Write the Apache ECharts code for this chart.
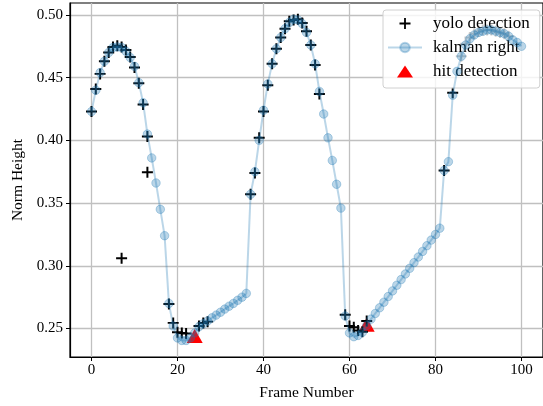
<!DOCTYPE html>
<html>
<head>
<meta charset="utf-8">
<script src="https://cdn.jsdelivr.net/npm/echarts@6/dist/echarts.min.js"></script>
<style>
html,body{margin:0;padding:0;background:#fff;}
#chart{width:543px;height:406px;}
</style>
</head>
<body>
<div id="chart"></div>
<script>
// Kalman estimate, one value per frame 0..100
const kalmanFrames = Array.from({length: 101}, (_, i) => i);
const kalmanRight = [
  0.423, 0.440, 0.454, 0.463, 0.470, 0.474, 0.4745, 0.474, 0.471, 0.466,
  0.459, 0.446, 0.430, 0.405, 0.386, 0.366, 0.345, 0.324, 0.270, 0.252,
  0.2425, 0.2405, 0.2405, 0.2425, 0.2465, 0.2515, 0.2538, 0.2560, 0.2585, 0.2607,
  0.2630, 0.2655, 0.2678, 0.2700, 0.2725, 0.2750, 0.2780, 0.357, 0.375, 0.400,
  0.424, 0.445, 0.461, 0.473, 0.482, 0.489, 0.494, 0.4965, 0.496, 0.493,
  0.486, 0.476, 0.461, 0.439, 0.421, 0.402, 0.384, 0.365, 0.346, 0.260,
  0.2465, 0.2435, 0.2445, 0.247, 0.2525, 0.2575, 0.262, 0.2665, 0.271, 0.2755,
  0.2800, 0.2845, 0.2890, 0.2935, 0.2980, 0.3025, 0.3070, 0.3115, 0.3160, 0.3205,
  0.3250, 0.3300, 0.376, 0.383, 0.436, 0.455, 0.467, 0.476, 0.481, 0.484,
  0.486, 0.487, 0.488, 0.488, 0.487, 0.486, 0.485, 0.483, 0.480, 0.478,
  0.475
];
// YOLO detections (frame, norm height)
const yoloFrames = [
  0, 1, 2, 3, 4, 5, 6, 7, 8, 9, 10, 11, 12, 13, 13, 7,
  18, 19, 20, 21, 22, 25, 26, 27,
  37, 38, 39, 40, 41, 42, 43, 44, 45, 46, 47, 48, 49, 50, 51, 52, 53,
  59, 60, 61, 62, 63, 64,
  82, 84, 86, 87, 88, 89, 90, 91, 92, 93, 94, 95, 96, 97
];
const yoloValues = [
  0.423, 0.441, 0.453, 0.463, 0.470, 0.4745, 0.4755, 0.4745, 0.472, 0.4665, 0.458, 0.4455, 0.4285, 0.403, 0.3745, 0.306,
  0.2695, 0.2545, 0.247, 0.2465, 0.246, 0.252, 0.2544, 0.2555,
  0.357, 0.374, 0.402, 0.423, 0.444, 0.461, 0.473, 0.482, 0.489, 0.495, 0.496, 0.4965, 0.4935, 0.487, 0.476, 0.460, 0.437,
  0.261, 0.252, 0.251, 0.2485, 0.2475, 0.256,
  0.376, 0.438, 0.467, 0.477, 0.482, 0.485, 0.487, 0.488, 0.488, 0.488, 0.487, 0.486, 0.485, 0.483
];
// Hit detections
const hitFrames = [24, 64];
const hitValues = [0.244, 0.253];

const xTicks = [0, 20, 40, 60, 80, 100];
const yTicks = [0.25, 0.30, 0.35, 0.40, 0.45, 0.50];

const FONT = 'Liberation Serif';
const PLUS = 'path://M4.1,0H5.9V4.1H10V5.9H5.9V10H4.1V5.9H0V4.1H4.1Z';
const PLUS_ICON = 'path://M0,0M34,12M16.1,0.5H17.9V5.1H22.5V6.9H17.9V11.5H16.1V6.9H11.5V5.1H16.1Z';
const TRI_ICON = 'path://M0,0M34,12M9,12L17,0L25,12Z';
const BLUE = '#1f77b4';

const chart = echarts.init(document.getElementById('chart'), null, {renderer: 'canvas'});
const option = {
  animation: false,
  backgroundColor: '#fff',
  textStyle: {fontFamily: FONT},
  grid: {left: 70, top: 3, width: 476, height: 355, show: true, borderColor: '#000', borderWidth: 1.2, backgroundColor: 'transparent'},
  xAxis: {
    type: 'value', min: -5, max: 105,
    name: 'Frame Number', nameLocation: 'middle', nameGap: 28,
    nameTextStyle: {fontFamily: FONT, fontSize: 15.5, color: '#000'},
    axisLine: {show: true, onZero: false, lineStyle: {color: '#000', width: 1.2}},
    axisTick: {show: true, length: 4, inside: false, customValues: xTicks, lineStyle: {color: '#000', width: 1}},
    axisLabel: {customValues: xTicks, fontFamily: FONT, fontSize: 15, color: '#000', margin: 6},
    splitLine: {show: true, lineStyle: {color: '#c0c0c0', width: 1.3}}
  },
  yAxis: {
    type: 'value', min: 0.2273, max: 0.5095,
    name: 'Norm Height', nameLocation: 'middle', nameGap: 38, nameRotate: 90,
    nameTextStyle: {fontFamily: FONT, fontSize: 15.5, color: '#000'},
    axisLine: {show: true, onZero: false, lineStyle: {color: '#000', width: 1.2}},
    axisTick: {show: true, length: 4, customValues: yTicks, lineStyle: {color: '#000', width: 1}},
    axisLabel: {customValues: yTicks, fontFamily: FONT, fontSize: 15, color: '#000', margin: 7,
      formatter: v => v.toFixed(2)},
    splitLine: {show: true, lineStyle: {color: '#c0c0c0', width: 1.3}}
  },
  legend: {
    left: 383, top: 10, orient: 'vertical',
    data: [
      {name: 'yolo detection', icon: PLUS_ICON},
      {name: 'kalman right'},
      {name: 'hit detection', icon: TRI_ICON}
    ],
    itemWidth: 34, itemHeight: 12, itemGap: 7,
    padding: [5, 10, 8, 4],
    backgroundColor: 'rgba(255,255,255,0.8)',
    borderColor: '#d0d0d0', borderWidth: 1, borderRadius: 3,
    textStyle: {fontFamily: FONT, fontSize: 17, color: '#000', lineHeight: 17, padding: [0, 0, 0, 6]}
  },
  series: [
    {
      name: 'hit detection', type: 'scatter', z: 2,
      symbol: 'triangle', symbolSize: [16, 14],
      itemStyle: {color: '#ff0000', opacity: 1},
      data: hitFrames.map((f, i) => [f, hitValues[i]])
    },
    {
      name: 'yolo detection', type: 'scatter', z: 3,
      symbol: PLUS, symbolSize: 11,
      itemStyle: {color: '#000', opacity: 1},
      data: yoloFrames.map((f, i) => [f, yoloValues[i]])
    },
    {
      name: 'kalman right', type: 'line', z: 4,
      symbol: 'circle', symbolSize: 8.5, showSymbol: true,
      lineStyle: {color: BLUE, width: 2, opacity: 0.3},
      itemStyle: {color: 'rgba(31,119,180,0.3)', borderColor: 'rgba(31,119,180,0.3)', borderWidth: 1},
      data: kalmanFrames.map((f, i) => [f, kalmanRight[i]])
    }
  ]
};
chart.setOption(option);
</script>
</body>
</html>
